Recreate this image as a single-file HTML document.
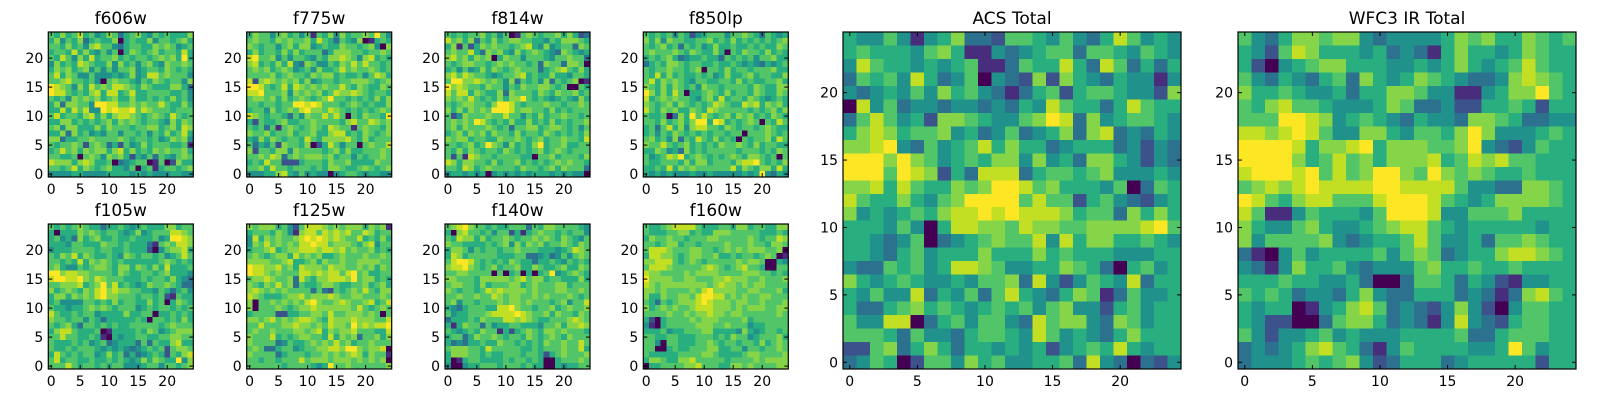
<!DOCTYPE html>
<html><head><meta charset="utf-8"><style>
html,body{margin:0;padding:0;background:#fff;width:1600px;height:400px;overflow:hidden}
svg text{font-family:"DejaVu Sans","Liberation Sans",sans-serif;fill:#000}
</style></head><body>
<svg id="fig" width="1600" height="400" viewBox="0 0 1600 400" xmlns="http://www.w3.org/2000/svg"></svg>
<script>
const tickValues = [0,5,10,15,20];
const panelTitles = ["f606w","f775w","f814w","f850lp","f105w","f125w","f140w","f160w","ACS Total","WFC3 IR Total"];
const f606w = ["6575685645763567546565557","5746573565570565574665675","6657564786643566557676456","5665857546460576567566585","6586475856675656656767595","4756587655747564675476676","5767567464646674566576565","6857644644454574588676664","6678665640676654657656647","9876475867688765765557753","9886565785885685566665564","6564767675675575565657564","5737766499886676766865575","5585868449898896876665666","6856657857578876567658656","5577565656757676566547576","6747755575766656677567587","5573756454664665646575685","7735566766667656656457674","6566762676352645756665561","5686757677578575657676675","6655606764767525463654676","8777578755603456601602755","6656857656755460561566567","4444554444555545454445544"];
const f775w = ["5766467564616574756676964","6766576766758653654701565","7656646757745655766567407","5756657575666357776656676","8966746466546577876478565","7856575843764465768686656","6767567645647556867667656","6666756766576775655646875","8278767675745665667776567","9986568587676766865765576","8896667476767568778765665","6776757567656796656565757","6656656699898666567656557","5664756768977687656565676","8765665364766868606576659","5265567556676666578668767","6563616765676587661676657","7667566756675578856576567","5475765665865777786575666","6354627665702586466067668","7266577476666567575566676","6676873676777675664656676","5658662225666576675555766","6675866566656577655676567","4445578546454404566545544"];
const f814w = ["6565667564601676566757523","8675736575677665546577765","5716257676656785474566376","6766853767547567654376545","7867576705766466654667663","6567766567676656376637760","5646457576567666356786575","7868766545667856557554665","6997787676473656473656701","9787665766465766776560065","8688576557376665765766756","7676865657577965654565475","6567766579986566676656676","7575767699986776657565666","6247666766866465756676656","6767698656575575657565667","6757666765636677567765646","5675767576657566576565657","7677566557667656756676658","6656756976475657956675566","6575765665765656756765666","6261876656666550667566657","8757766575667565656767665","6658756766665766567576663","4554545045454545554545440"];
const f850lp = ["6565646524566646676536545","7574766556675657565656567","6567563656457556556565576","6766676576557506576657565","5656753455655365656466755","3565776566556556545435456","6566766567066575665666755","6585756556564575567566557","6857676546655665756556675","7657576564766566665765577","9757586055676575665765576","8567676654675856657654565","7656757656568765587857675","8657675576587666665656757","6556037596865675767565765","6657567579959856567606586","5636857478866576566567655","5646576565656656606667656","6756473658657565065667586","7668656756565766765756655","5576453756566666566656576","6456879567656567657765606","6556665757756665788965657","5565857676666668576577585","5454544454454444454594354"];
const f105w = ["6565676553556545655577566","5055576765665457456668876","5645375675565565556459987","5554665557665655531676887","4555666656655655520467785","6576857655654765665645686","6656585767656555555676565","6754465677657757657585556","9978877666657655665675554","8998897687666555656657543","6677785679685654576676533","7567657689787766554653564","5775767689776665665621655","5644446656575665575605765","6554556767656664565665656","8655656645555755660556565","7665664653555556506656575","6567536656565566666567666","5788655560155556576456777","6686655651054556655667766","6555656456345553636557855","6556566654545434565626776","5865656645756353456526578","6856655655656545757655947","6668656656566444566466567"];
const f125w = ["7677756426888767677757671","5666576417886878786687566","4857676678989878766856575","4768676768898867776578466","5667856778887887867667565","6765677586767556766676676","7777667855675766766777766","9887786758777687766767576","9887676668878788689675566","6778766738657788879677565","7657686736556776556675675","7876767666636326567686577","8765556778677787667766676","7066767676897667876678568","7066676567787777776865676","5666622556677686677767606","7767867678876587778777668","6686667787767687769787889","6766766677678576778666558","7666856567766585767366757","7666634655676768675667666","6763356645667788799767780","7666635666566767678757661","6656656668677767776767670","6666665666654596676666667"];
const f140w = ["6789766565566636577666654","5078665646625156766565664","6587757566765667676576546","7665555656747576756676576","5776465665667666555456876","5875666665556633453464676","6899865656576553556546565","7889765675667557655675576","6677666606056050569456765","7766657777767867756655575","6776657566677567666775666","7656656878777767666776676","6676676687677667676667656","6746656667677676665674668","5435666558897665667567667","6455666788889876675766576","3555657666887876556667876","5157663645566555466757787","6545657661525676577676665","5663576676566576567657666","5343556557665656576676686","6777665866666556566676685","5777665655666566525676667","5015665555656656500566676","4004556665666565500545566"];
const f160w = ["6556788886555665775665577","6555667756557776666655565","5766766566677666667656687","6656775665666676667665776","6888766677665676767776670","5887765677667556566567601","7788865676566666767760054","6888766666787656786650066","8776666767777666677766565","9777766776667787776676667","8767777777767877676776666","7767666676897777667766675","7557667768998867676677666","6536567778987776776676667","7567676678887776767776677","6666766767787767766666676","5205666676777666675666666","4105666667776676664556666","5556455666775555475456656","6655665556665657664566675","6640665556676566566575676","6600565566677556646656676","6555556666776555567766667","5776557786666656666767777","0556666778666557767666677"];
const acsTotal = ["5446414573326654643586454","5655546751143456636654654","4865545456113655853863535","3656485346043272754354414","4345464756431356256654427","0846344344343548655358655","3686452776544679837456654","5787566745346345737834354","7789436456857553455534243","9997976456577474537754243","9996987253888356656744454","7785865576799867555460365","8655754679999686625643245","7454565788989888756637575","5554640588776877667777896","5543460345676684857755654","5543564555755575655544455","4336564588764455765305645","7545654454667384246548355","5464483546368543576136445","5335675654565646744256455","6448803564664386774376455","6665364435665486454357555","2267357535545452456585455","3465026647564455638430324"];
const wfc3Total = ["6435776774344445767557656","5426875554534315755457655","5204567755544545754568655","6435435637545765433478765","7556544535577644114577965","6578665444576334225565255","6669987456543544377653344","8878986447754665797444565","9999857789577766794324655","9999756867577785687866555","8999896867997697676556555","6787898888998888644337765","9865788666899986545777765","8611465554699984466675555","7544675445678865455555455","7466667434556864453667655","3104645555646763455788765","4314755643444675565565555","5556554453003665354214455","6565344357433555343137865","5455014578634324742046655","5422003677534314843256655","6424456454445555633566655","3434578653146555544596455","3444565674235553455555255"];
const panelData = [f606w,f775w,f814w,f850lp,f105w,f125w,f140w,f160w,acsTotal,wfc3Total];

const viridis = ["#440154","#472d7b","#3b528b","#2c728e","#21918c","#29af7f","#52c569","#86d549","#c2df23","#fde725"];
const svg = document.getElementById('fig');
const NS = "http://www.w3.org/2000/svg";
function mk(tag, attrs, parent){const e=document.createElementNS(NS,tag);for(const k in attrs)e.setAttribute(k,attrs[k]);parent.appendChild(e);return e;}

const smallLefts=[48.3,246.7,445,643.3];
const layout=[];
for(let i=0;i<8;i++){layout.push({x:smallLefts[i%4],y:i<4?32:224,w:145,h:145,fs:14,ts:17});}
layout.push({x:843,y:32,w:338,h:337,fs:14,ts:17});
layout.push({x:1238,y:32,w:338,h:337,fs:14,ts:17});

panelData.forEach((rows,p)=>{
  const L=layout[p];
  const g=mk('g',{},svg);
  
  
  const n=rows.length, m=rows[0].length;
  const cw=L.w/m, ch=L.h/n;
  const sx=v=>L.x+(v+0.5)*cw;
  const sy=v=>L.y+L.h-(v+0.5)*ch;
  const hm=mk('g',{'shape-rendering':'crispEdges'},g);
  
  
  rows.forEach((row,ri)=>{
    const yv=n-1-ri;
    for(let c=0;c<m;c++){
      const v=+row[c];
      const r=mk('rect',{x:(sx(c)-cw/2).toFixed(2),y:(sy(yv)-ch/2).toFixed(2),width:(cw+0.4).toFixed(2),height:(ch+0.4).toFixed(2),fill:viridis[v]},hm);
      
      
    }
  });
  const fr=mk('rect',{x:L.x,y:L.y,width:L.w,height:L.h,fill:'none',stroke:'#000','stroke-width':1.2},g);
  
  
  tickValues.forEach(t=>{
    const x=sx(t), y=sy(t);
    mk('line',{x1:x,y1:L.y+L.h,x2:x,y2:L.y+L.h-4,stroke:'#000','stroke-width':1},g);
    mk('line',{x1:x,y1:L.y,x2:x,y2:L.y+4,stroke:'#000','stroke-width':1},g);
    mk('line',{x1:L.x,y1:y,x2:L.x+4,y2:y,stroke:'#000','stroke-width':1},g);
    mk('line',{x1:L.x+L.w,y1:y,x2:L.x+L.w-4,y2:y,stroke:'#000','stroke-width':1},g);
    const xl=mk('text',{x:x,y:L.y+L.h+17,'font-size':L.fs,'text-anchor':'middle'},g);
    xl.textContent=t;
    
    
    const yl=mk('text',{x:L.x-5,y:y+5,'font-size':L.fs,'text-anchor':'end'},g);
    yl.textContent=t;
    
    
  });
  const tt=mk('text',{x:L.x+L.w/2,y:L.y-8,'font-size':L.ts,'text-anchor':'middle'},g);
  tt.textContent=panelTitles[p];
  
  
});
</script>
</body></html>
